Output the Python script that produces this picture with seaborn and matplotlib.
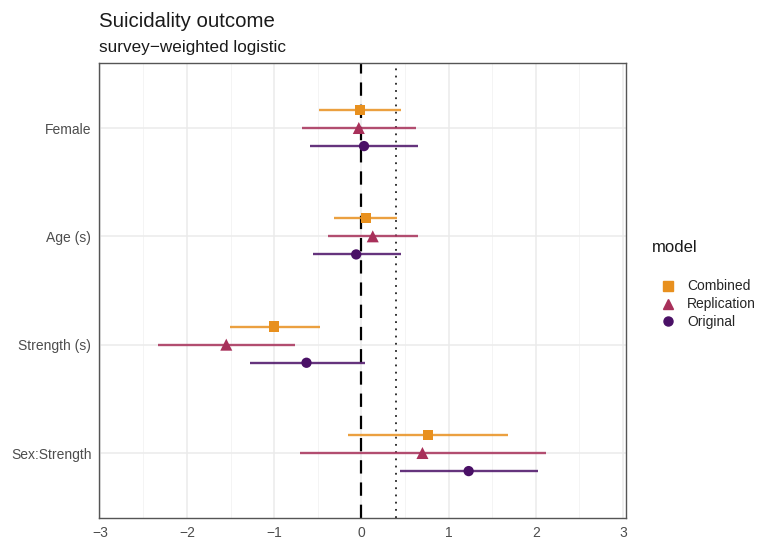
import numpy as np
import pandas as pd
import matplotlib
matplotlib.use("Agg")
import matplotlib.pyplot as plt
from matplotlib.ticker import MultipleLocator
import seaborn as sns

# coefficients
terms = ["Female", "Age (s)", "Strength (s)", "Sex:Strength"]
models = ["Combined", "Replication", "Original"]

est_combined = [-0.02, 0.05, -1.00, 0.76]
lo_combined = [-0.49, -0.32, -1.51, -0.15]
hi_combined = [0.45, 0.41, -0.47, 1.68]

est_replication = [-0.03, 0.13, -1.55, 0.70]
lo_replication = [-0.68, -0.38, -2.33, -0.70]
hi_replication = [0.63, 0.65, -0.76, 2.12]

est_original = [0.03, -0.06, -0.63, 1.23]
lo_original = [-0.59, -0.56, -1.28, 0.44]
hi_original = [0.65, 0.45, 0.04, 2.02]

ref_line = 0.395

colors = {"Combined": "#E8901E", "Replication": "#A8305A", "Original": "#4A1066"}
markers = {"Combined": "s", "Replication": "^", "Original": "o"}
msizes = {"Combined": 55, "Replication": 75, "Original": 55}
dodge = {"Combined": -0.167, "Replication": 0.0, "Original": 0.167}

rows = []
for m, est, lo, hi in [("Combined", est_combined, lo_combined, hi_combined),
                       ("Replication", est_replication, lo_replication, hi_replication),
                       ("Original", est_original, lo_original, hi_original)]:
    for i, t in enumerate(terms):
        rows.append({"term": t, "model": m, "estimate": est[i], "lo": lo[i], "hi": hi[i],
                     "ypos": i + dodge[m]})
df = pd.DataFrame(rows)

sns.set_theme(style="white")
plt.rcParams["font.family"] = ["Liberation Sans", "DejaVu Sans"]

fig = plt.figure(figsize=(7.59, 5.39), dpi=100)
ax = fig.add_axes([99 / 759, 21 / 539, 527 / 759, 455 / 539])

# grid like theme_bw
ax.xaxis.set_major_locator(MultipleLocator(1))
ax.xaxis.set_minor_locator(MultipleLocator(0.5))
ax.grid(which="major", color="#EBEBEB", linewidth=1.1)
ax.grid(which="minor", axis="x", color="#F2F2F2", linewidth=0.6)
ax.set_axisbelow(True)

ax.axvline(0, color="black", linestyle=(0, (6, 4)), linewidth=1.6, zorder=2)
ax.axvline(ref_line, color="#222222", linestyle=(0, (1, 3)), linewidth=1.3, zorder=2)

for m in models:
    sub = df[df["model"] == m]
    ax.hlines(sub["ypos"], sub["lo"], sub["hi"], color=colors[m], linewidth=1.7,
              alpha=0.85, zorder=3)

sns.scatterplot(data=df, x="estimate", y="ypos", hue="model", style="model",
                size="model", sizes=msizes,
                hue_order=models, style_order=models, size_order=models,
                palette=colors, markers=markers,
                edgecolor="none", ax=ax, zorder=4, legend=False)

ax.set_xlim(-3.01, 3.035)
ax.set_ylim(3.6, -0.6)
ax.set_yticks(range(len(terms)))
ax.set_yticklabels(terms)
ax.set_xlabel("")
ax.set_ylabel("")

ax.tick_params(axis="both", which="major", length=3.5, width=0.8, color="#333333",
               labelsize=10, labelcolor="#4D4D4D", pad=2)
ax.tick_params(axis="x", which="minor", length=0)
for sp in ax.spines.values():
    sp.set_color("#555555")
    sp.set_linewidth(1.0)

# legend (title drawn separately to get the wider gap)
handles = [plt.Line2D([], [], linestyle="none", marker=markers[m], color=colors[m],
                      markersize=6.5 if m != "Replication" else 7.5) for m in models]
leg = fig.legend(handles, models, loc="upper left",
                 bbox_to_anchor=(644 / 759, 1 - 267 / 539), frameon=False,
                 fontsize=10, handletextpad=0.6, labelspacing=0.28,
                 handlelength=1.6)
fig.text(652 / 759, 1 - 247 / 539, "model", fontsize=12, color="#1A1A1A", va="center")

fig.text(99 / 759, 1 - 27 / 539, "Suicidality outcome", fontsize=14.7, color="#1A1A1A")
fig.text(99 / 759, 1 - 52 / 539, "survey\u2212weighted logistic", fontsize=12.3,
         color="#1A1A1A")

fig.savefig("out.png", dpi=100)
